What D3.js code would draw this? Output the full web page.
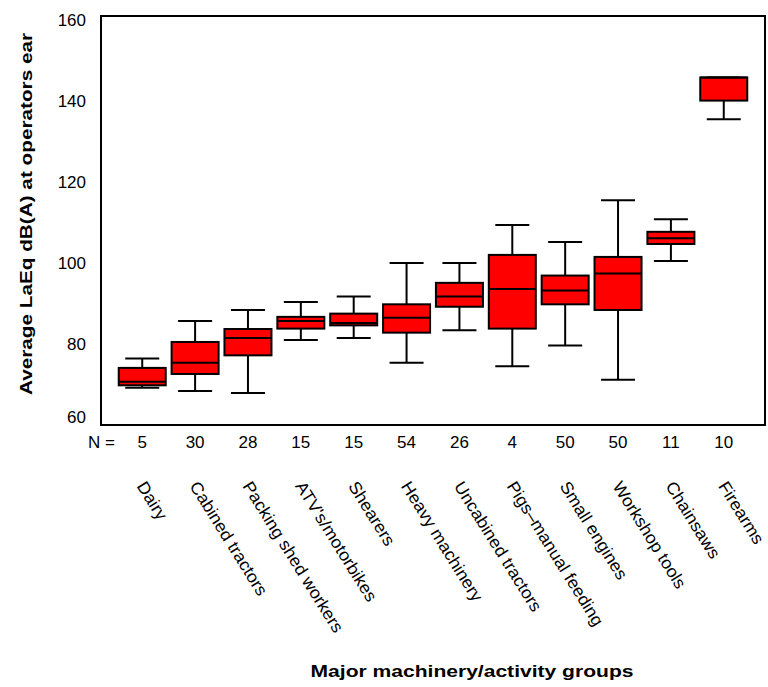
<!DOCTYPE html>
<html>
<head>
<meta charset="utf-8">
<script src="https://cdn.jsdelivr.net/npm/d3@7"></script>
<style>
  body { margin: 0; background: #fff; }
  svg { display: block; font-family: "Liberation Sans", Arial, sans-serif; }
</style>
</head>
<body>
<svg width="768" height="687"></svg>
<script>
// group names, sample sizes and box stats
var groups = ["Dairy", "Cabined tractors", "Packing shed workers", "ATV's/motorbikes",
  "Shearers", "Heavy machinery", "Uncabined tractors", "Pigs\u2013manual feeding",
  "Small engines", "Workshop tools", "Chainsaws", "Firearms"];
var nCounts  = [5, 30, 28, 15, 15, 54, 26, 4, 50, 50, 11, 10];
var whiskLo  = [69.2, 68.4, 67.9, 81.0, 81.5, 75.4, 83.4, 74.5, 79.6, 71.2, 100.5, 135.5];
var q1       = [69.8, 72.6, 77.2, 83.8, 84.6, 82.8, 89.2, 83.8, 89.8, 88.4, 104.7, 140.1];
var medians  = [70.7, 75.4, 81.5, 85.7, 85.2, 86.5, 91.7, 93.6, 93.2, 97.4, 106.1, 145.8];
var q3       = [74.1, 80.5, 83.7, 86.7, 87.5, 89.8, 95.1, 102.0, 96.9, 101.5, 107.7, 145.8];
var whiskHi  = [76.4, 85.7, 88.4, 90.4, 91.7, 100.0, 100.0, 109.4, 105.2, 115.5, 110.8, 145.8];
var yTicks   = [60, 80, 100, 120, 140, 160];

var svg = d3.select("svg");
var plotLeft = 101, plotRight = 765, plotTop = 16, plotBottom = 425;

var x = d3.scalePoint()
  .domain(groups)
  .range([plotLeft, plotRight])
  .padding(0.78);
var y = d3.scaleLinear()
  .domain([60, 160])
  .range([plotBottom, 20]);

var boxW = 47, capW = 34;

var rows = groups.map(function(g, i) {
  return {name: g, n: nCounts[i], lo: whiskLo[i], q1: q1[i], med: medians[i], q3: q3[i], hi: whiskHi[i]};
});

// frame
svg.append("rect")
  .attr("x", plotLeft).attr("y", plotTop)
  .attr("width", plotRight - plotLeft).attr("height", plotBottom - plotTop)
  .style("fill", "none").style("stroke", "black").style("stroke-width", 2);

// y tick labels (no tick marks)
svg.append("g").selectAll("text")
  .data(yTicks)
  .enter().append("text")
  .attr("x", 86)
  .attr("y", function(d) { return d == 60 ? y(d) - 8 : y(d); })
  .attr("dy", "0.35em")
  .attr("text-anchor", "end")
  .style("font-size", "17px")
  .text(function(d) { return d; });

var box = svg.append("g").selectAll("g")
  .data(rows)
  .enter().append("g");

// whiskers
box.append("line")
  .attr("x1", function(d) { return x(d.name); })
  .attr("x2", function(d) { return x(d.name); })
  .attr("y1", function(d) { return y(d.hi); })
  .attr("y2", function(d) { return y(d.lo); })
  .style("stroke", "black").style("stroke-width", 2);
box.append("line")
  .attr("x1", function(d) { return x(d.name) - capW / 2; })
  .attr("x2", function(d) { return x(d.name) + capW / 2; })
  .attr("y1", function(d) { return y(d.hi); })
  .attr("y2", function(d) { return y(d.hi); })
  .style("stroke", "black").style("stroke-width", 2);
box.append("line")
  .attr("x1", function(d) { return x(d.name) - capW / 2; })
  .attr("x2", function(d) { return x(d.name) + capW / 2; })
  .attr("y1", function(d) { return y(d.lo); })
  .attr("y2", function(d) { return y(d.lo); })
  .style("stroke", "black").style("stroke-width", 2);

// boxes
box.append("rect")
  .attr("x", function(d) { return x(d.name) - boxW / 2; })
  .attr("y", function(d) { return y(d.q3); })
  .attr("width", boxW)
  .attr("height", function(d) { return y(d.q1) - y(d.q3); })
  .style("fill", "#ff0000")
  .style("stroke", "black").style("stroke-width", 2);

// medians
box.append("line")
  .attr("x1", function(d) { return x(d.name) - boxW / 2; })
  .attr("x2", function(d) { return x(d.name) + boxW / 2; })
  .attr("y1", function(d) { return y(d.med); })
  .attr("y2", function(d) { return y(d.med); })
  .style("stroke", "black").style("stroke-width", 2);

// N row
svg.append("text")
  .attr("x", 88).attr("y", 448)
  .style("font-size", "17px")
  .text("N =");
svg.append("g").selectAll("text")
  .data(rows)
  .enter().append("text")
  .attr("x", function(d) { return x(d.name); })
  .attr("y", 448)
  .attr("text-anchor", "middle")
  .style("font-size", "17px")
  .text(function(d) { return d.n; });

// slanted group names
svg.append("g").selectAll("text")
  .data(rows)
  .enter().append("text")
  .attr("transform", function(d) {
    return "translate(" + (x(d.name) - 6) + ",486) rotate(58) scale(1.05,1)";
  })
  .style("font-size", "17px")
  .text(function(d) { return d.name; });

// axis titles
svg.append("text")
  .attr("transform", "translate(472,677) scale(1.24,1)")
  .attr("text-anchor", "middle")
  .style("font-size", "17px").style("font-weight", "bold")
  .text("Major machinery/activity groups");

svg.append("text")
  .attr("transform", "translate(32,214) rotate(-90) scale(1.22,1)")
  .attr("text-anchor", "middle")
  .style("font-size", "17px").style("font-weight", "bold")
  .text("Average LaEq dB(A) at operators ear");
</script>
</body>
</html>
